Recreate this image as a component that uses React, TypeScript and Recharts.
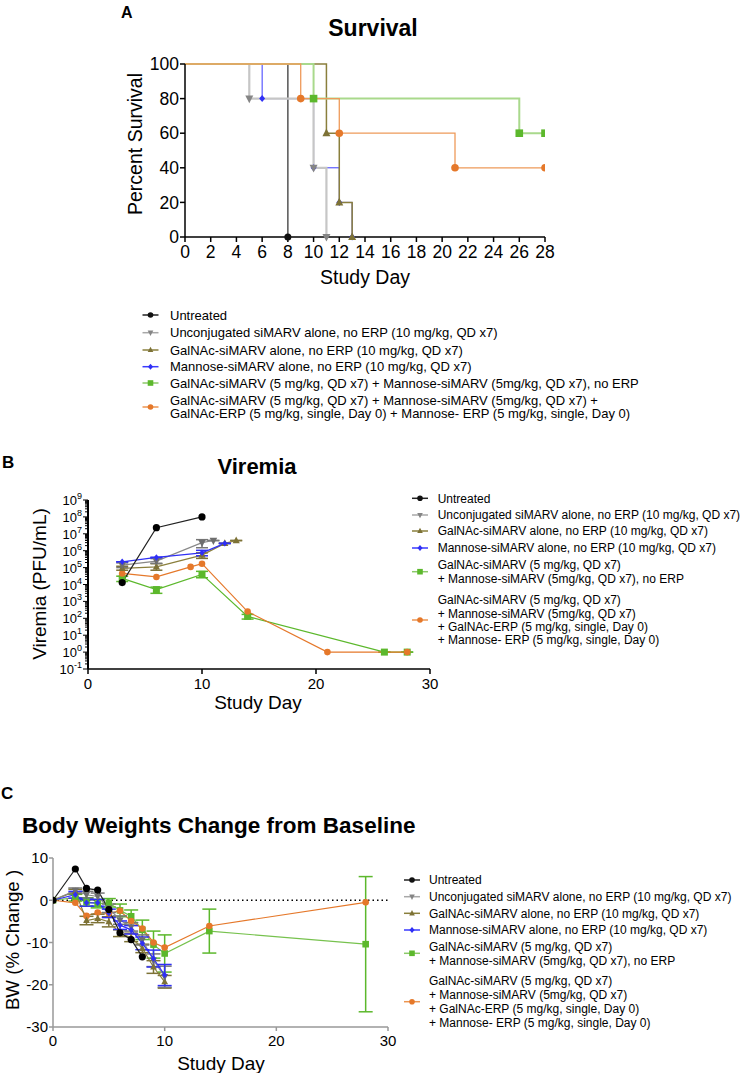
import React from 'react'
import { LineChart, Line, XAxis, YAxis, ErrorBar, ReferenceLine } from 'recharts'

const FONT = '"Liberation Sans", Arial, Helvetica, sans-serif'

// ---- panel A: survival (step curves) ----
const survUntreatedDay = [0, 8]
const survUntreated = [100, 0]
const survUnconjDay = [0, 5, 10, 11]
const survUnconj = [100, 80, 40, 0]
const survGalnacDay = [0, 11, 12, 13]
const survGalnac = [100, 60, 20, 0]
const survMannoseDay = [0, 6, 10, 12, 13]
const survMannose = [100, 80, 40, 20, 0]
const survComboDay = [0, 10, 26, 28]
const survCombo = [100, 80, 60, 60]
const survErpDay = [0, 9, 12, 21, 28]
const survErp = [100, 80, 60, 40, 40]
const survTicksX = [0, 2, 4, 6, 8, 10, 12, 14, 16, 18, 20, 22, 24, 26, 28]
const survTicksY = [0, 20, 40, 60, 80, 100]

// ---- panel B: viremia (PFU/mL) ----
const virUntreatedDay = [3, 6, 10]
const virUntreated = [1.3e4, 2.3e7, 1e8]
const virUnconjDay = [3, 6, 10, 11]
const virUnconj = [1.4e5, 2.4e5, 3e6, 4e6]
const virUnconjErr = [[4e4, 5e4], [6e4, 1e5], [1.5e6, 1.5e6], [0, 0]]
const virGalnacDay = [3, 6, 10, 12, 13]
const virGalnac = [9e4, 1.1e5, 5.5e5, 2.7e6, 4e6]
const virGalnacErr = [[2e4, 3e4], [4e4, 6e4], [2e5, 2e5], [0, 0], [0, 0]]
const virMannoseDay = [3, 6, 10, 12]
const virMannose = [2.2e5, 4e5, 7.5e5, 2.7e6]
const virMannoseErr = [[0, 0], [0, 0], [2.5e5, 3e5], [0, 0]]
const virComboDay = [3, 6, 10, 14, 26, 28]
const virCombo = [2.3e4, 5e3, 4e4, 1.3e2, 1, 1]
const virComboErr = [[8e3, 8e3], [2e3, 2e3], [1.5e4, 2e4], [40, 40], [0, 0], [0, 0]]
const virErpDay = [3, 6, 9, 10, 14, 21, 28]
const virErp = [4.5e4, 2.8e4, 1.1e5, 1.7e5, 2.5e2, 1, 1]
const virTicksX = [0, 10, 20, 30]

// ---- panel C: body weight % change ----
const bwUntreatedDay = [0, 2, 3, 4, 5, 6, 7, 8]
const bwUntreated = [0, 7.4, 2.8, 2.4, -2.2, -7.7, -9.3, -13.4]
const bwDay = [0, 2, 3, 4, 5, 6, 7, 8, 9, 10]
const bwUnconj = [0, 2.3, 1.3, 0.9, -1.9, -4.7, -6.3, -9.4, -14.2, -18.1]
const bwUnconjErr = [0, 0.6, 0.8, 0.8, 1, 1, 1, 1.2, 1.5, 2.5]
const bwGalnac = [0, 2.1, -4.8, -4.3, -5.1, -7.8, -8.8, -11.4, -15.8, -19.3]
const bwGalnacErr = [0, 0.5, 1, 1, 1.2, 0.8, 1, 1, 1.5, 1.5]
const bwMannose = [0, 1.3, -0.6, -0.6, -3.1, -5.9, -7.0, -10.2, -13.8, -17.7]
const bwMannoseErr = [0, 0.8, 0.8, 0.8, 1, 1, 1, 1.5, 2, 2.5]
const bwLongDay = [0, 2, 3, 4, 5, 6, 7, 8, 9, 10, 14, 28]
const bwCombo = [0, 0.6, -0.4, -0.8, -0.6, -2.4, -3.8, -7.0, -10.5, -12.6, -7.3, -10.4]
const bwComboErr = [0, 0.8, 1, 1, 1, 1.5, 1.5, 2.3, 3.2, 4.4, 5.2, 16]
const bwErp = [0, -0.6, -3.7, -2.9, -3.1, -2.5, -4.9, -6.7, -10.0, -11.2, -6.1, -0.5]
const bwTicksX = [0, 10, 20, 30]
const bwTicksY = [-30, -20, -10, 0, 10]

const labelsShort = [
  'Untreated',
  'Unconjugated siMARV alone, no ERP (10 mg/kg, QD x7)',
  'GalNAc-siMARV alone, no ERP (10 mg/kg, QD x7)',
  'Mannose-siMARV alone, no ERP (10 mg/kg, QD x7)',
]

const COL = {
  untreated: '#111111',
  unconj: '#858585',
  galnac: '#7d7236',
  mannose: '#2f2ff5',
  combo: '#5cb82c',
  erp: '#e5782a',
}

type Shape = 'circle' | 'square' | 'triangle' | 'triangleDown' | 'diamond'

function Marker({ shape, x, y, r, fill }: { shape: Shape; x: number; y: number; r: number; fill: string }) {
  if (shape === 'circle') return <circle cx={x} cy={y} r={r} fill={fill} />
  if (shape === 'square') return <rect x={x - r} y={y - r} width={2 * r} height={2 * r} fill={fill} />
  if (shape === 'triangle')
    return <polygon points={`${x},${y - r * 1.15} ${x + r},${y + r * 0.75} ${x - r},${y + r * 0.75}`} fill={fill} />
  if (shape === 'triangleDown')
    return <polygon points={`${x},${y + r * 1.15} ${x + r},${y - r * 0.75} ${x - r},${y - r * 0.75}`} fill={fill} />
  return <polygon points={`${x},${y - r} ${x + r * 0.85},${y} ${x},${y + r} ${x - r * 0.85},${y}`} fill={fill} />
}

const dotFn = (shape: Shape, fill: string, r: number, skipFirst = false) => (p: any) => {
  const { cx, cy, index } = p
  if ((skipFirst && index === 0) || cx == null || cy == null) return <g key={index} />
  return (
    <g key={index}>
      <Marker shape={shape} x={cx} y={cy} r={r} fill={fill} />
    </g>
  )
}

const rows = (days: number[], vals: number[], errs?: any[]) =>
  days.map((d, i) => ({ day: d, v: vals[i], err: errs ? errs[i] : undefined }))

// log axis ticks 10^-1 .. 10^9 with minor ticks
const virTicksY: number[] = []
for (let e = -1; e < 9; e++) for (let k = 1; k <= 9; k++) virTicksY.push(k * Math.pow(10, e))
virTicksY.push(1e9)

const LogTick = (p: any) => {
  const { x, y, payload } = p
  const v = payload.value
  const lg = Math.log10(v)
  const e = Math.round(lg)
  const major = Math.abs(lg - e) < 1e-6
  return (
    <g>
      <line x1={x} x2={x - (major ? 5 : 3)} y1={y} y2={y} stroke="#000" strokeWidth={1} />
      {major && (
        <text x={x - 6} y={y + 5} textAnchor="end" fontSize={13} fontFamily={FONT} fill="#000">
          10<tspan dy={-6} fontSize={9}>{e}</tspan>
        </text>
      )}
    </g>
  )
}

function LegendRow({ x, y, color, line, shape }: { x: number; y: number; color: string; line: string; shape: Shape }) {
  return (
    <g>
      <line x1={x - 8} x2={x + 8} y1={y} y2={y} stroke={line} strokeWidth={1.5} />
      <Marker shape={shape} x={x} y={y} r={shape === 'diamond' ? 3 : 2.8} fill={color} />
    </g>
  )
}

const shapes: Shape[] = ['circle', 'triangleDown', 'triangle', 'diamond', 'square', 'circle']
const colors = [COL.untreated, COL.unconj, COL.galnac, COL.mannose, COL.combo, COL.erp]
const lineColors = ['#222', '#a8a8a8', '#8a7f3c', '#3a3aff', '#8cc96a', '#ec9550']

export default function App() {
  const tickA = { fontSize: 17.5, fill: '#000', fontFamily: FONT }
  const tickC = { fontSize: 15, fill: '#000', fontFamily: FONT }

  // legend text block helpers
  const legB = (x0: number, tx: number, ys: number[], symY: number[], fs: number) => (
    <g fontFamily={FONT} fontSize={fs} fill="#000">
      {symY.map((sy, i) => (
        <LegendRow key={i} x={x0} y={sy} color={colors[i]} line={lineColors[i]} shape={shapes[i]} />
      ))}
      {[
        ...labelsShort,
        'GalNAc-siMARV (5 mg/kg, QD x7)',
        '+ Mannose-siMARV (5mg/kg, QD x7), no ERP',
        'GalNAc-siMARV (5 mg/kg, QD x7)',
        '+ Mannose-siMARV (5mg/kg, QD x7)',
        '+ GalNAc-ERP (5 mg/kg, single, Day 0)',
        '+ Mannose- ERP (5 mg/kg, single, Day 0)',
      ].map((t, i) => (
        <text key={i} x={tx} y={ys[i] + 4.3}>
          {t}
        </text>
      ))}
    </g>
  )

  return (
    <div style={{ position: 'absolute', left: 0, top: 0, width: 744, height: 1073, background: '#fff', fontFamily: FONT }}>
      {/* Panel A */}
      <div style={{ position: 'absolute', left: 0, top: 0 }}>
        <LineChart width={560} height={290} margin={{ top: 64, right: 15, left: 135, bottom: 23 }}>
          <XAxis
            type="number"
            dataKey="day"
            domain={[0, 28]}
            ticks={survTicksX}
            allowDataOverflow
            height={30}
            stroke="#000"
            strokeWidth={1.5}
            tickSize={5}
            tickMargin={4}
            tick={tickA}
          />
          <YAxis
            type="number"
            domain={[0, 100]}
            ticks={survTicksY}
            width={50}
            stroke="#000"
            strokeWidth={1.5}
            tickSize={5}
            tickMargin={1}
            tick={tickA}
          />
          <Line data={rows(survUntreatedDay, survUntreated)} dataKey="v" type="stepAfter" stroke="#555" strokeWidth={1.5} dot={dotFn('circle', COL.untreated, 3.5, true)} isAnimationActive={false} />
          <Line data={rows(survMannoseDay, survMannose)} dataKey="v" type="stepAfter" stroke="#3a3aff" strokeWidth={1} dot={dotFn('diamond', COL.mannose, 3.5, true)} isAnimationActive={false} />
          <Line data={rows(survGalnacDay, survGalnac)} dataKey="v" type="stepAfter" stroke="#8a7f3c" strokeWidth={1.5} dot={dotFn('triangle', COL.galnac, 4, true)} isAnimationActive={false} />
          <Line data={rows(survUnconjDay, survUnconj)} dataKey="v" type="stepAfter" stroke="#c6c6c6" strokeWidth={2.2} dot={dotFn('triangleDown', COL.unconj, 4, true)} isAnimationActive={false} />
          <Line data={rows(survComboDay, survCombo)} dataKey="v" type="stepAfter" stroke="#a9d98c" strokeWidth={2} dot={dotFn('square', COL.combo, 3.8, true)} isAnimationActive={false} />
          <Line data={rows(survErpDay, survErp)} dataKey="v" type="stepAfter" stroke="#ee9a5a" strokeWidth={1.3} dot={dotFn('circle', COL.erp, 3.8, true)} isAnimationActive={false} />
        </LineChart>
      </div>

      {/* Panel B */}
      <div style={{ position: 'absolute', left: 0, top: 430 }}>
        <LineChart width={440} height={300} margin={{ top: 70, right: 10, left: 38, bottom: 31 }}>
          <XAxis
            type="number"
            dataKey="day"
            domain={[0, 30]}
            ticks={virTicksX}
            allowDataOverflow
            height={30}
            stroke="#000"
            strokeWidth={1.5}
            tickSize={5}
            tickMargin={4}
            tick={tickC}
          />
          <YAxis
            type="number"
            scale="log"
            domain={[0.1, 1e9]}
            ticks={virTicksY}
            interval={0}
            allowDataOverflow
            width={50}
            stroke="#000"
            strokeWidth={2}
            tickLine={false}
            tickSize={0}
            tickMargin={0}
            tick={<LogTick />}
          />
          <Line data={rows(virComboDay, virCombo, virComboErr)} dataKey="v" stroke={COL.combo} strokeWidth={1.2} dot={dotFn('square', COL.combo, 3.5)} isAnimationActive={false}>
            <ErrorBar dataKey="err" width={6} stroke={COL.combo} strokeWidth={1.5} isAnimationActive={false} />
          </Line>
          <Line data={rows(virErpDay, virErp)} dataKey="v" stroke={COL.erp} strokeWidth={1.2} dot={dotFn('circle', COL.erp, 3.3)} isAnimationActive={false} />
          <Line data={rows(virGalnacDay, virGalnac, virGalnacErr)} dataKey="v" stroke="#8a7f3c" strokeWidth={1.2} dot={dotFn('triangle', COL.galnac, 3.6)} isAnimationActive={false}>
            <ErrorBar dataKey="err" width={6} stroke={COL.galnac} strokeWidth={1.5} isAnimationActive={false} />
          </Line>
          <Line data={rows(virUnconjDay, virUnconj, virUnconjErr)} dataKey="v" stroke="#888" strokeWidth={1.2} dot={dotFn('triangleDown', '#6e6e6e', 3.8)} isAnimationActive={false}>
            <ErrorBar dataKey="err" width={6} stroke="#777" strokeWidth={1.5} isAnimationActive={false} />
          </Line>
          <Line data={rows(virMannoseDay, virMannose, virMannoseErr)} dataKey="v" stroke={COL.mannose} strokeWidth={1.2} dot={dotFn('diamond', COL.mannose, 3.2)} isAnimationActive={false}>
            <ErrorBar dataKey="err" width={6} stroke={COL.mannose} strokeWidth={1.5} isAnimationActive={false} />
          </Line>
          <Line data={rows(virUntreatedDay, virUntreated)} dataKey="v" stroke="#222" strokeWidth={1.2} dot={dotFn('circle', '#000', 3.6)} isAnimationActive={false} />
        </LineChart>
      </div>

      {/* Panel C */}
      <div style={{ position: 'absolute', left: 0, top: 780 }}>
        <LineChart width={400} height={300} margin={{ top: 78, right: 12, left: 3, bottom: 23 }}>
          <XAxis
            type="number"
            dataKey="day"
            domain={[0, 30]}
            ticks={bwTicksX}
            allowDataOverflow
            height={30}
            stroke="#999"
            strokeWidth={1.5}
            tickSize={4}
            tickMargin={4}
            tick={tickC}
          />
          <YAxis
            type="number"
            domain={[-30, 10]}
            ticks={bwTicksY}
            allowDataOverflow
            width={50}
            stroke="#999"
            strokeWidth={1.5}
            tickSize={4}
            tickMargin={1}
            tick={tickC}
          />
          <ReferenceLine y={0} stroke="#000" strokeWidth={1.5} strokeDasharray="1.5 3" />
          <Line data={rows(bwLongDay, bwCombo, bwComboErr)} dataKey="v" stroke="#77c24e" strokeWidth={1.2} dot={dotFn('square', COL.combo, 3.3)} isAnimationActive={false}>
            <ErrorBar dataKey="err" width={7} stroke={COL.combo} strokeWidth={1.5} isAnimationActive={false} />
          </Line>
          <Line data={rows(bwLongDay, bwErp)} dataKey="v" stroke={COL.erp} strokeWidth={1.2} dot={dotFn('circle', COL.erp, 3.3)} isAnimationActive={false} />
          <Line data={rows(bwDay, bwGalnac, bwGalnacErr)} dataKey="v" stroke="#8a7f3c" strokeWidth={1.2} dot={dotFn('triangle', COL.galnac, 3.4)} isAnimationActive={false}>
            <ErrorBar dataKey="err" width={7} stroke={COL.galnac} strokeWidth={1.5} isAnimationActive={false} />
          </Line>
          <Line data={rows(bwDay, bwUnconj, bwUnconjErr)} dataKey="v" stroke="#888" strokeWidth={1.2} dot={dotFn('triangleDown', '#6e6e6e', 3.6)} isAnimationActive={false}>
            <ErrorBar dataKey="err" width={7} stroke="#777" strokeWidth={1.5} isAnimationActive={false} />
          </Line>
          <Line data={rows(bwDay, bwMannose, bwMannoseErr)} dataKey="v" stroke={COL.mannose} strokeWidth={1.2} dot={dotFn('diamond', COL.mannose, 3.2)} isAnimationActive={false}>
            <ErrorBar dataKey="err" width={7} stroke={COL.mannose} strokeWidth={1.5} isAnimationActive={false} />
          </Line>
          <Line data={rows(bwUntreatedDay, bwUntreated)} dataKey="v" stroke="#222" strokeWidth={1.2} dot={dotFn('circle', '#000', 3.6)} isAnimationActive={false} />
        </LineChart>
      </div>

      {/* titles, axis labels, legends */}
      <svg width={744} height={1073} style={{ position: 'absolute', left: 0, top: 0, pointerEvents: 'none' }}>
        <g fontFamily={FONT} fill="#000">
          <text x={121} y={18} fontSize={16} fontWeight="bold">A</text>
          <text x={373} y={36} fontSize={23} fontWeight="bold" textAnchor="middle">Survival</text>
          <text transform="translate(142,144) rotate(-90)" fontSize={19.5} textAnchor="middle">Percent Survival</text>
          <text x={365} y={284} fontSize={19.5} textAnchor="middle">Study Day</text>

          <text x={2} y={468} fontSize={17} fontWeight="bold">B</text>
          <text x={257} y={474} fontSize={22} fontWeight="bold" textAnchor="middle">Viremia</text>
          <text transform="translate(46,584) rotate(-90)" fontSize={19} textAnchor="middle">Viremia (PFU/mL)</text>
          <text x={258} y={709} fontSize={19} textAnchor="middle">Study Day</text>

          <text x={1} y={799} fontSize={17} fontWeight="bold">C</text>
          <text x={22} y={833} fontSize={22.5} fontWeight="bold">Body Weights Change from Baseline</text>
          <text transform="translate(19,940) rotate(-90)" fontSize={18.7} textAnchor="middle">BW (% Change )</text>
          <text x={221} y={1070} fontSize={19} textAnchor="middle">Study Day</text>
        </g>

        {/* legend A */}
        <g fontFamily={FONT} fontSize={13} fill="#000">
          {[315, 332.7, 350, 366.7, 383, 407].map((sy, i) => (
            <LegendRow key={i} x={150.5} y={sy} color={colors[i]} line={lineColors[i]} shape={shapes[i]} />
          ))}
          {[
            ...labelsShort,
            'GalNAc-siMARV (5 mg/kg, QD x7) + Mannose-siMARV (5mg/kg, QD x7), no ERP',
            'GalNAc-siMARV (5 mg/kg, QD x7) + Mannose-siMARV (5mg/kg, QD x7) +',
            'GalNAc-ERP (5 mg/kg, single, Day 0) + Mannose- ERP (5 mg/kg, single, Day 0)',
          ].map((t, i) => (
            <text key={i} x={170} y={[315, 332.7, 350, 366.7, 383, 400, 413.5][i] + 4.7}>
              {t}
            </text>
          ))}
        </g>

        {legB(420, 437.7, [498.3, 515, 531, 548, 565, 578.3, 600, 613.3, 626.7, 640], [498.3, 515, 531, 548, 571.7, 620], 12)}
        {legB(412, 429, [880, 896.7, 913.3, 930, 946.7, 961, 980.7, 995, 1009, 1022.7], [880, 896.7, 913.3, 930, 953.3, 1001.7], 12)}
      </svg>
    </div>
  )
}
